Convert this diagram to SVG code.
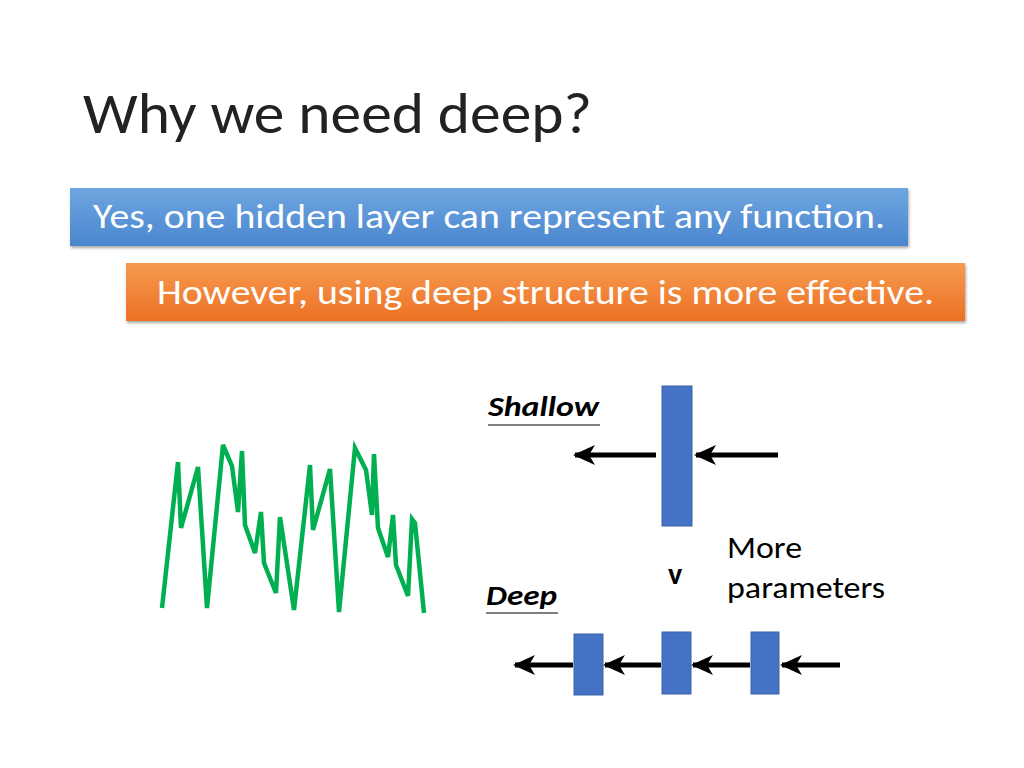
<svg xmlns="http://www.w3.org/2000/svg" width="1024" height="768" viewBox="0 0 1024 768">
<defs>
<style>
.t{font-family:Calibri,Carlito,"Liberation Sans",sans-serif}
.box{fill:#4472c4}
.ar{stroke:#000;stroke-width:5;marker-end:url(#ah)}
</style>
<marker id="ah" markerUnits="userSpaceOnUse" markerWidth="22" markerHeight="20" refX="20" refY="10" orient="auto"><path d="M0,0 L22,10 L0,20 L6,10 Z" fill="#000"/></marker>
<filter id="sh"><feDropShadow dx="1" dy="2" stdDeviation="1.5" flood-opacity="0.35"/></filter>
<linearGradient id="gb" x1="0" y1="0" x2="0" y2="1"><stop offset="0" stop-color="#6fa6e0"/><stop offset="1" stop-color="#4a86cf"/></linearGradient>
<linearGradient id="go" x1="0" y1="0" x2="0" y2="1"><stop offset="0" stop-color="#f79a4f"/><stop offset="1" stop-color="#ec7124"/></linearGradient>
</defs>
<rect width="1024" height="768" fill="#fff"/>
<text class="t" x="83" y="133" font-size="58" fill="#222" textLength="509" lengthAdjust="spacingAndGlyphs">Why we need deep?</text>
<g id="yes"><rect x="70" y="188" width="838" height="58" fill="url(#gb)" filter="url(#sh)"/>
<text class="t" x="93" y="228" font-size="34" fill="#fff" textLength="792" lengthAdjust="spacingAndGlyphs">Yes, one hidden layer can represent any function.</text></g>
<g id="however"><rect x="126" y="263" width="839" height="58" fill="url(#go)" filter="url(#sh)"/>
<text class="t" x="157" y="304" font-size="34" fill="#fff" textLength="777" lengthAdjust="spacingAndGlyphs">However, using deep structure is more effective.</text></g>
<polyline id="zigzag" fill="none" stroke="#00b050" stroke-width="4.5" stroke-linejoin="miter" points="162,608 178,462 181,528 198,467 207,608 223,445 232,466 238,512 242,451 245,525 255,553 261,512 264,563 276,593 280,517 294,610 310,465 313,530 330,469 339,612 355,448 366,470 372,515 374,454 378,528 388,557 393,515 396,565 408,596 412,519 415,523 424,613"/>
<g id="shallow-label"><text class="t" x="488" y="416" font-size="28" font-weight="bold" font-style="italic" textLength="111" lengthAdjust="spacingAndGlyphs">Shallow</text><line x1="488" y1="425" x2="600" y2="425" stroke="#000" stroke-width="1"/></g>
<g id="deep-label"><text class="t" x="486" y="605" font-size="28" font-weight="bold" font-style="italic" textLength="71" lengthAdjust="spacingAndGlyphs">Deep</text><line x1="486" y1="613" x2="558" y2="613" stroke="#000" stroke-width="1"/></g>
<g id="shallow-layer"><rect class="box" x="662" y="386" width="30" height="140" stroke="#3a62a8"/></g>
<g id="deep1"><rect class="box" x="574" y="634" width="29" height="61" stroke="#3a62a8"/></g>
<g id="deep2"><rect class="box" x="662" y="632" width="29" height="62" stroke="#3a62a8"/></g>
<g id="deep3"><rect class="box" x="751" y="632" width="28" height="62" stroke="#3a62a8"/></g>
<g id="connectors">
<line class="ar" x1="656" y1="455" x2="575" y2="455"/>
<line class="ar" x1="778" y1="455" x2="696" y2="455"/>
<line class="ar" x1="573" y1="665" x2="515" y2="665"/>
<line class="ar" x1="661" y1="665" x2="605" y2="665"/>
<line class="ar" x1="750" y1="665" x2="693" y2="665"/>
<line class="ar" x1="840" y1="665" x2="782" y2="665"/>
</g>
<text class="t" x="675" y="584" font-size="30" font-weight="bold" text-anchor="middle">v</text>
<text class="t" x="727" y="558" font-size="30" textLength="75" lengthAdjust="spacingAndGlyphs">More</text>
<text class="t" x="727" y="598" font-size="30" textLength="158" lengthAdjust="spacingAndGlyphs">parameters</text>
</svg>
